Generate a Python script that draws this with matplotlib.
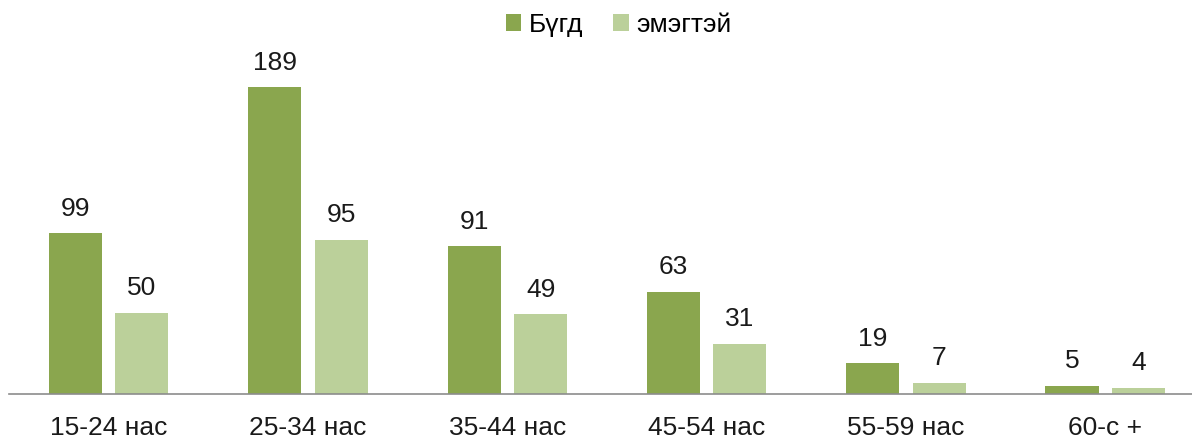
import numpy as np
import matplotlib
matplotlib.use("Agg")
import matplotlib.pyplot as plt

categories = ["15-24 нас", "25-34 нас", "35-44 нас", "45-54 нас", "55-59 нас", "60-с +"]
total = [99, 189, 91, 63, 19, 5]
female = [50, 95, 49, 31, 7, 4]

plt.rcParams["font.family"] = ["Liberation Sans", "DejaVu Sans"]

DARK = "#8aa64e"
LIGHT = "#bbd09a"

fig = plt.figure(figsize=(11.92, 4.38), dpi=100)
ax = fig.add_axes([9 / 1192, 44 / 438, 1 - 9 / 1192, 394 / 438])

x = np.arange(len(categories))
w = 0.266
off = 0.167
b1 = ax.bar(x - off, total, w, color=DARK, label="Бүгд")
b2 = ax.bar(x + off, female, w, color=LIGHT, label="эмэгтэй")

for bars in (b1, b2):
    for r in bars:
        ax.annotate(f"{int(r.get_height())}", (r.get_x() + r.get_width() / 2, r.get_height()),
                    xytext=(0, 9), textcoords="offset points", ha="center", va="bottom",
                    fontsize=19, color="#1a1a1a")

ax.set_xlim(-0.5, 5.435)
ax.set_ylim(0, 242.6)
ax.set_xticks(x)
ax.set_xticklabels(categories, fontsize=19, color="#1a1a1a")
ax.tick_params(axis="x", length=0, pad=16)
ax.set_yticks([])
for s in ("top", "right", "left"):
    ax.spines[s].set_visible(False)
ax.spines["bottom"].set_color("#8c8c8c")
ax.spines["bottom"].set_linewidth(1.2)

fig.legend(loc="upper center", bbox_to_anchor=(0.519, 1.025), ncol=2, frameon=False,
           fontsize=19, handlelength=0.6, handleheight=0.6, handletextpad=0.3,
           columnspacing=1.1)

fig.savefig("out.png", dpi=100)
